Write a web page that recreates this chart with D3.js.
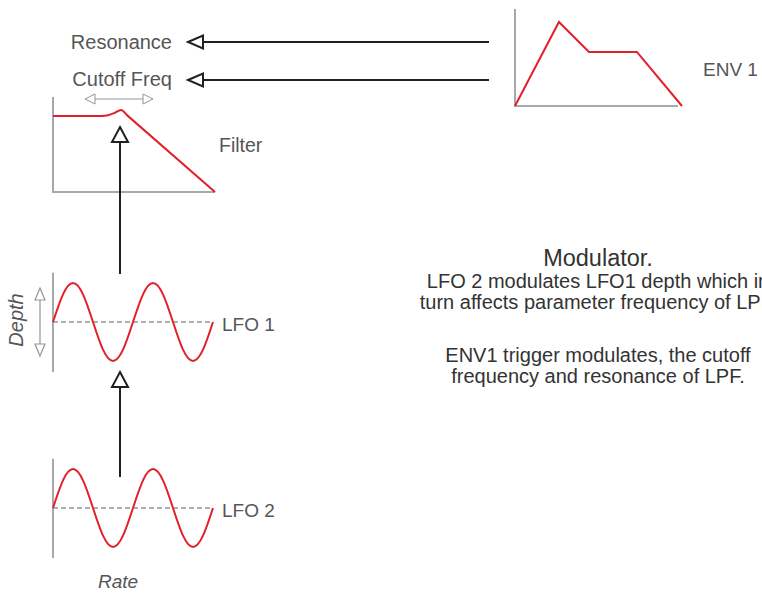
<!DOCTYPE html>
<html lang="en">
  <head>
    <meta charset="utf-8" />
    <title>Modulator</title>
    <style>
      body { margin: 0; background: #fff; }
      text { font-family: "Liberation Sans", Arial, sans-serif; fill: #555657; }
    </style>
  </head>
  <body>
    <svg id="viz"></svg>
    <script src="https://d3js.org/d3.v7.min.js"></script>
    <script>
        var width = 762;
        var height = 594;
        var red = "#e3202a", axisGrey = "#a7a9ac", ink = "#231f20", dashGrey = "#939598";

        // filter response: frequency 0..100, level 0..100
        var filterFreq = [0, 30, 34, 38, 42, 46, 100];
        var filterLevel = [80, 80, 80.8, 83.2, 86.3, 80.4, 0];

        // ENV 1: attack peak, decay, sustain, release
        var envTime = [0, 26.3, 44.3, 73, 100];
        var envLevel = [0, 86.6, 55.7, 55.7, 0];

        // LFO waves, sampled every eighth of a period (two periods)
        var lfo1 = [0, 0.71, 1, 0.71, 0, -0.71, -1, -0.71, 0, 0.71, 1, 0.71, 0, -0.71, -1, -0.71, 0];
        var lfo2 = [0, 0.71, 1, 0.71, 0, -0.71, -1, -0.71, 0, 0.71, 1, 0.71, 0, -0.71, -1, -0.71, 0];

        var targetLabels = ["Resonance", "Cutoff Freq"];
        var noteTitle = "Modulator.";
        var noteLfo = ["LFO 2 modulates LFO1 depth which in", "turn affects parameter frequency of LPF."];
        var noteEnv = ["ENV1 trigger modulates, the cutoff", "frequency and resonance of LPF."];

        var svg = d3.select("#viz")
            .attr("width", width)
            .attr("height", height);

        // hollow-headed arrow, (x2, y2) is the tip
        function arrow(g, x1, y1, x2, y2, len, half, color, sw) {
            var dx = x2 - x1, dy = y2 - y1, d = Math.sqrt(dx * dx + dy * dy);
            var ux = dx / d, uy = dy / d;
            var bx = x2 - ux * len, by = y2 - uy * len;
            g.append("line")
                .attr("x1", x1).attr("y1", y1).attr("x2", bx).attr("y2", by)
                .attr("stroke", color).attr("stroke-width", sw);
            g.append("path")
                .attr("d", "M" + x2 + "," + y2 +
                    "L" + (bx - uy * half) + "," + (by + ux * half) +
                    "L" + (bx + uy * half) + "," + (by - ux * half) + "Z")
                .attr("fill", "#fff").attr("stroke", color).attr("stroke-width", sw)
                .attr("stroke-linejoin", "miter");
        }

        // ---- Filter ----
        var fx = d3.scaleLinear().domain([0, 100]).range([53, 215]);
        var fy = d3.scaleLinear().domain([0, 100]).range([192, 97]);
        var filter = svg.append("g");
        filter.append("path")
            .attr("d", "M" + fx(0) + "," + fy(100) + "V" + fy(0) + "H" + fx(100))
            .attr("fill", "none").attr("stroke", axisGrey).attr("stroke-width", 2);
        filter.append("path")
            .datum(d3.zip(filterFreq, filterLevel))
            .attr("d", d3.line().x(d => fx(d[0])).y(d => fy(d[1])).curve(d3.curveMonotoneX))
            .attr("fill", "none").attr("stroke", red).attr("stroke-width", 2);
        filter.append("text").attr("x", 219).attr("y", 152).style("font-size", "19.5px").text("Filter");
        var sweep = svg.append("g");
        arrow(sweep, 119, 99, 85, 99, 10, 5, dashGrey, 1);
        arrow(sweep, 119, 99, 153, 99, 10, 5, dashGrey, 1);

        // ---- ENV 1 ----
        var ex = d3.scaleLinear().domain([0, 100]).range([515, 682]);
        var ey = d3.scaleLinear().domain([0, 100]).range([106, 9]);
        var env = svg.append("g");
        env.append("path")
            .attr("d", "M" + ex(0) + "," + ey(100) + "V" + ey(0) + "H" + ex(97.6))
            .attr("fill", "none").attr("stroke", axisGrey).attr("stroke-width", 2);
        env.append("path")
            .datum(d3.zip(envTime, envLevel))
            .attr("d", d3.line().x(d => ex(d[0])).y(d => ey(d[1])))
            .attr("fill", "none").attr("stroke", red).attr("stroke-width", 2)
            .attr("stroke-linejoin", "miter");
        env.append("text").attr("x", 703).attr("y", 76).style("font-size", "19px").text("ENV 1");

        // ---- targets ----
        var targetY = [42, 80];
        var targetBase = [49, 86];
        var tg = svg.append("g");
        targetLabels.forEach(function(t, i) {
            tg.append("text").attr("x", 172).attr("y", targetBase[i])
                .attr("text-anchor", "end").style("font-size", "20px").text(t);
            arrow(tg, 489, targetY[i], 188, targetY[i], 15, 6.5, ink, 2);
        });

        // ---- LFOs ----
        function drawLfo(values, cy, label) {
            var x = d3.scaleLinear().domain([0, values.length - 1]).range([53, 213]);
            var y = d3.scaleLinear().domain([-1, 1]).range([cy + 39, cy - 39]);
            var g = svg.append("g");
            g.append("line")
                .attr("x1", x(0)).attr("x2", x(0)).attr("y1", y(1.26)).attr("y2", y(-1.28))
                .attr("stroke", axisGrey).attr("stroke-width", 2);
            g.append("line")
                .attr("x1", x(0)).attr("x2", x(values.length - 1)).attr("y1", y(0)).attr("y2", y(0))
                .attr("stroke", dashGrey).attr("stroke-width", 1.3).attr("stroke-dasharray", "5,3");
            g.append("path")
                .datum(values)
                .attr("d", d3.line().x((d, i) => x(i)).y(d => y(d)).curve(d3.curveNatural))
                .attr("fill", "none").attr("stroke", red).attr("stroke-width", 2);
            g.append("text").attr("x", 222).attr("y", cy + 8.5).style("font-size", "19px").text(label);
            return g;
        }
        drawLfo(lfo1, 322, "LFO 1");
        drawLfo(lfo2, 508, "LFO 2");

        var depth = svg.append("g");
        arrow(depth, 40, 322, 40, 288, 12, 5, dashGrey, 1.2);
        arrow(depth, 40, 322, 40, 356, 12, 5, dashGrey, 1.2);
        svg.append("text")
            .attr("transform", "translate(23,320) rotate(-90)")
            .attr("text-anchor", "middle")
            .style("font-size", "20px").style("font-style", "italic")
            .text("Depth");
        svg.append("text")
            .attr("x", 118).attr("y", 588).attr("text-anchor", "middle")
            .style("font-size", "19px").style("font-style", "italic")
            .text("Rate");

        // modulation arrows
        var mods = svg.append("g");
        arrow(mods, 120, 274, 120, 127, 15, 8, ink, 2);
        arrow(mods, 120, 477, 120, 372, 15, 8, ink, 2);

        // ---- notes ----
        var notes = svg.append("g").attr("text-anchor", "middle");
        notes.append("text").attr("x", 598).attr("y", 266).style("font-size", "23.5px").style("fill", "#333").text(noteTitle);
        noteLfo.forEach(function(t, i) {
            notes.append("text").attr("x", 598).attr("y", 288 + i * 21).style("font-size", "20px").style("fill", "#333").text(t);
        });
        noteEnv.forEach(function(t, i) {
            notes.append("text").attr("x", 598).attr("y", 362 + i * 21).style("font-size", "20px").style("fill", "#333").text(t);
        });
    </script>
  </body>
</html>
